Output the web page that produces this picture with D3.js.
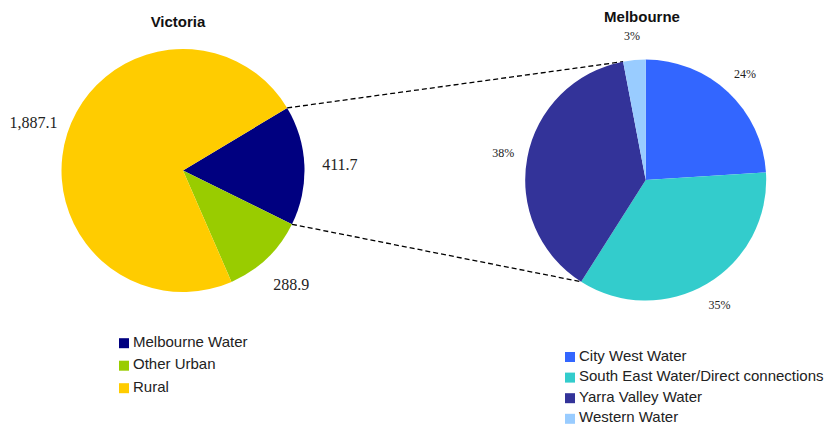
<!DOCTYPE html>
<html>
<head>
<meta charset="utf-8">
<script src="https://cdn.jsdelivr.net/npm/d3@7"></script>
<style>
    body { margin: 0; background: #fff; }
    svg { display: block; }
</style>
</head>
<body>
<div class="chart-container"></div>
<script>
// data
const victoriaNames = ['Melbourne Water', 'Other Urban', 'Rural'];
const victoriaValues = [411.7, 288.9, 1887.1];
const victoriaColors = ['#000080', '#99cc00', '#ffcc00'];

const melbourneNames = ['City West Water', 'South East Water/Direct connections', 'Yarra Valley Water', 'Western Water'];
const melbourneValues = [24, 35, 38, 3];
const melbourneColors = ['#3366ff', '#33cccc', '#333399', '#99ccff'];

const width = 826;
const height = 425;
const deg = Math.PI / 180;

const svg = d3.select('.chart-container')
    .append('svg')
    .attr('width', width)
    .attr('height', height);

// pie layouts
const leftStart = 59 * deg;
const pieLeft = d3.pie().sort(null).value(d => d)
    .startAngle(leftStart).endAngle(leftStart + 2 * Math.PI);
const pieRight = d3.pie().sort(null).value(d => d);

const leftCenter = { x: 183, y: 170.5, r: 121.5 };
const rightCenter = { x: 645.7, y: 180, r: 120.5 };

const leftArcs = pieLeft(victoriaValues);
const rightArcs = pieRight(melbourneValues);

const pointAt = (c, angle, r) => [c.x + r * Math.sin(angle), c.y - r * Math.cos(angle)];

// connector lines (drawn first, under slices)
const connectors = [
    [pointAt(leftCenter, leftArcs[0].startAngle, leftCenter.r), pointAt(rightCenter, rightArcs[3].startAngle, rightCenter.r)],
    [pointAt(leftCenter, leftArcs[0].endAngle, leftCenter.r), pointAt(rightCenter, rightArcs[1].endAngle, rightCenter.r)]
];
svg.append('g')
    .selectAll('line')
    .data(connectors)
    .enter()
        .append('line')
        .attr('x1', d => d[0][0])
        .attr('y1', d => d[0][1])
        .attr('x2', d => d[1][0])
        .attr('y2', d => d[1][1])
        .style('stroke', '#000')
        .style('stroke-width', 1.3)
        .style('stroke-dasharray', '5,3');

function drawPie(c, arcs, colors, labels, labelR, fontSize) {
    const arcGen = d3.arc().innerRadius(0).outerRadius(c.r);
    const g = svg.append('g').attr('transform', `translate(${c.x}, ${c.y})`);
    g.selectAll('path')
        .data(arcs)
        .enter()
            .append('path')
            .attr('d', arcGen)
            .style('fill', (d, i) => colors[i]);

    const labelArc = d3.arc().innerRadius(labelR).outerRadius(labelR);
    g.selectAll('.slice-label')
        .data(arcs)
        .enter()
            .append('text')
            .attr('class', 'slice-label')
            .attr('transform', d => `translate(${labelArc.centroid(d)})`)
            .attr('text-anchor', 'middle')
            .attr('dominant-baseline', 'central')
            .style('font-family', '"Liberation Serif", "Times New Roman", serif')
            .style('font-size', fontSize)
            .style('fill', '#222')
            .text((d, i) => labels[i]);
}

drawPie(leftCenter, leftArcs, victoriaColors,
    victoriaValues.map(d3.format(',.1f')), 157, '16px');
drawPie(rightCenter, rightArcs, melbourneColors,
    melbourneValues.map(d => d + '%'), 145, '12px');

// titles
const titles = [
    { text: 'Victoria', x: 178, y: 27 },
    { text: 'Melbourne', x: 642, y: 22 }
];
svg.selectAll('.title')
    .data(titles)
    .enter()
        .append('text')
        .attr('class', 'title')
        .attr('x', d => d.x)
        .attr('y', d => d.y)
        .attr('text-anchor', 'middle')
        .style('font-family', '"Liberation Sans", Arial, sans-serif')
        .style('font-weight', 'bold')
        .style('font-size', '15px')
        .style('fill', '#111')
        .text(d => d.text);

// legends (y is the baseline of the first row)
function drawLegend(x, y, step, names, colors) {
    const lg = svg.append('g').attr('transform', `translate(${x}, ${y})`);
    const items = lg.selectAll('.legend-item')
        .data(names)
        .enter()
            .append('g')
            .attr('class', 'legend-item')
            .attr('transform', (d, i) => `translate(0, ${i * step})`);
    items.append('rect')
        .attr('x', 0)
        .attr('y', -8.5)
        .attr('width', 10)
        .attr('height', 10)
        .style('fill', (d, i) => colors[i]);
    items.append('text')
        .attr('x', 14)
        .attr('y', 0)
        .style('font-family', '"Liberation Sans", Arial, sans-serif')
        .style('font-size', '15px')
        .style('fill', '#222')
        .text(d => d);
}

drawLegend(119, 346.7, 22.5, victoriaNames, victoriaColors);
drawLegend(565, 360.5, 20.6, melbourneNames, melbourneColors);
</script>
</body>
</html>
